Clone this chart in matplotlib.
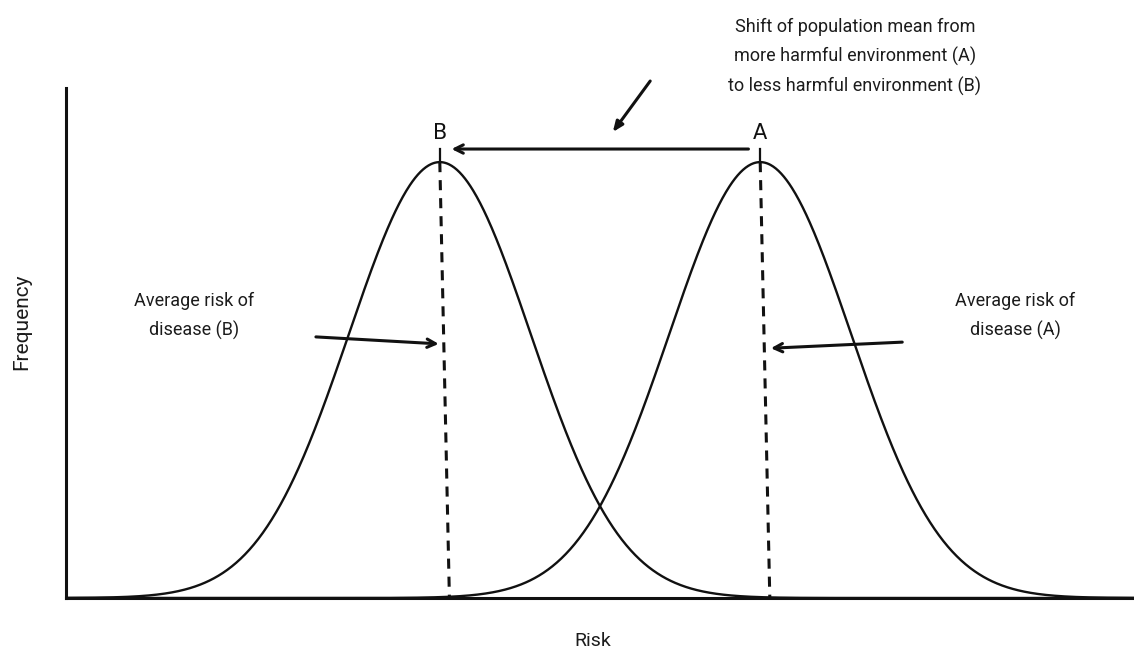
import numpy as np
import matplotlib
matplotlib.use("Agg")
import matplotlib.pyplot as plt

# ---- data ----
group_labels = ["B", "A"]
group_means = [3.5, 6.5]          # risk (arbitrary units)
group_sd = [0.85, 0.85]
peak_height = 1.0
x_label = "Risk"
y_label = "Frequency"
shift_text = "Shift of population mean from\nmore harmful environment (A)\nto less harmful environment (B)"
avg_texts = ["Average risk of\ndisease (B)", "Average risk of\ndisease (A)"]

plt.rcParams['font.family'] = ['Roboto', 'DejaVu Sans']
TXT = 13

W, H = 1134, 653
fig = plt.figure(figsize=(W / 100, H / 100), dpi=100)
ax = fig.add_axes([66 / W, (H - 598) / H, (W - 66) / W, (598 - 88) / H])
ax.set_xlim(0, 10)
ax.set_ylim(0, 1.17)

x = np.linspace(0, 10, 1200)
for mu, sd in zip(group_means, group_sd):
    y = peak_height * np.exp(-0.5 * ((x - mu) / sd) ** 2)
    ax.plot(x, y, color="#111111", lw=1.7, solid_capstyle="round")

lean = 0.09
tick_top = 1.03
for mu, lab in zip(group_means, group_labels):
    ax.plot([mu, mu + lean], [peak_height, 0], color="#111111", lw=2.2,
            linestyle=(0, (3.3, 2.6)))
    ax.plot([mu, mu], [peak_height, tick_top], color="#111111", lw=1.6)
    ax.text(mu, 1.066, lab, ha="center", va="center", fontsize=15,
            family=["DejaVu Sans"], color="#111111")

arrow_kw = dict(arrowstyle="->,head_length=0.6,head_width=0.3", color="#111111",
                lw=2.2, shrinkA=0, shrinkB=0)

# horizontal shift arrow A -> B
ax.annotate("", xy=(group_means[0] + 0.11, tick_top), xytext=(group_means[1] - 0.11, tick_top),
            arrowprops=arrow_kw)

# diagonal pointer arrow
ax.annotate("", xy=(5.12, 1.069), xytext=(5.47, 1.186),
            arrowprops=dict(arrowstyle="-|>,head_length=0.6,head_width=0.25", color="#111111",
                            lw=2.2, shrinkA=0, shrinkB=0), annotation_clip=False)

# average risk arrows
ax.annotate("", xy=(group_means[0] - 0.01, 0.583), xytext=(2.34, 0.599),
            arrowprops=arrow_kw)
ax.annotate("", xy=(group_means[1] + 0.1, 0.573), xytext=(7.83, 0.587),
            arrowprops=arrow_kw)

# texts
tc = "#1c1c1c"
fig.text(855 / W, 1 - 57 / H, shift_text, ha="center", va="center", fontsize=TXT,
         color=tc, linespacing=1.7)
fig.text(194 / W, 1 - 316 / H, avg_texts[0], ha="center", va="center", fontsize=TXT,
         color=tc, linespacing=1.7)
fig.text(1015 / W, 1 - 316 / H, avg_texts[1], ha="center", va="center", fontsize=TXT,
         color=tc, linespacing=1.7)
fig.text(22 / W, 1 - 322 / H, y_label, rotation=90, ha="center", va="center",
         fontsize=15, color=tc)
fig.text(593 / W, 1 - 641 / H, x_label, ha="center", va="center",
         fontsize=14, color=tc)

for s in ["top", "right"]:
    ax.spines[s].set_visible(False)
for s in ["left", "bottom"]:
    ax.spines[s].set_linewidth(2.2)
    ax.spines[s].set_color("#111111")
ax.set_xticks([])
ax.set_yticks([])

fig.savefig("out.png", dpi=100)
